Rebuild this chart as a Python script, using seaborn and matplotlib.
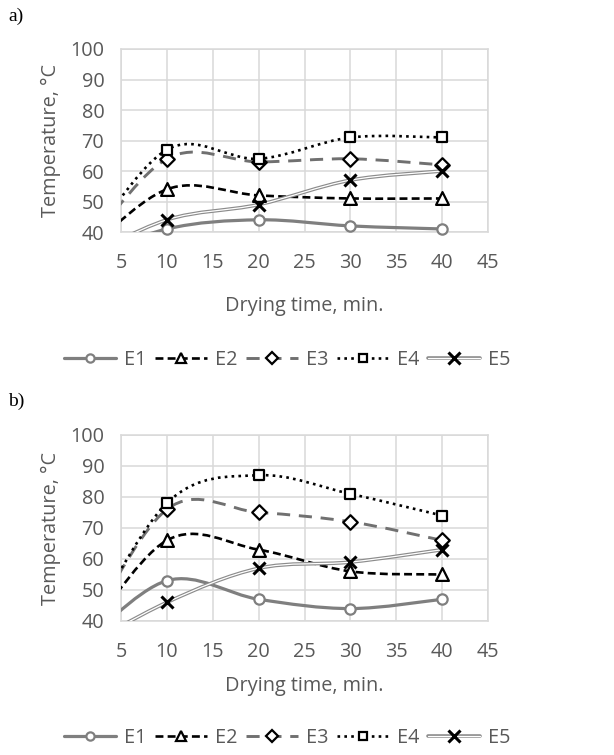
#***LIBRERÍAS***

import numpy as np
import pandas as pd
import matplotlib
matplotlib.use("Agg")
import matplotlib.pyplot as plt
import seaborn as sns
from matplotlib.path import Path
from matplotlib.patches import PathPatch
from matplotlib.lines import Line2D
from matplotlib.legend_handler import HandlerTuple
import matplotlib.patheffects as pe

#***DATOS***

tiempo = [0, 10, 20, 30, 40]
series = ["E1", "E2", "E3", "E4", "E5"]

# panel a)
a_E1 = [30, 41, 44, 42, 41]
a_E2 = [30, 54, 52, 51, 51]
a_E3 = [30, 64, 63, 64, 62]
a_E4 = [30, 67, 64, 71, 71]
a_E5 = [30, 44, 49, 57, 60]

# panel b)
b_E1 = [30, 53, 47, 44, 47]
b_E2 = [30, 66, 63, 56, 55]
b_E3 = [30, 76, 75, 72, 66]
b_E4 = [30, 78, 87, 81, 74]
b_E5 = [30, 46, 57, 59, 63]

xticks = [5, 10, 15, 20, 25, 30, 35, 40, 45]
yticks = [40, 50, 60, 70, 80, 90, 100]

GRIS_TXT = "#595959"
GRIS_GRID = "#d9d9d9"
FS = 14.3

#estilos por serie
estilos = {
    "E1": dict(color="#7f7f7f", lw=2.3, ls="-", marker="o", mec="#7f7f7f", s=55, doble=False),
    "E2": dict(color="black", lw=1.9, ls=(0, (3, 1.6)), marker="^", mec="black", s=85, doble=False),
    "E3": dict(color="#707070", lw=2.1, ls=(0, (4.5, 3)), marker="D", mec="black", s=55, doble=False),
    "E4": dict(color="black", lw=1.9, ls=(0, (1, 1.6)), marker="s", mec="black", s=62, doble=False),
    "E5": dict(color="#8c8c8c", lw=2.6, ls="-", marker="x", mec="black", s=75, doble=True),
}

#***FUNCIONES***

#curva suavizada tipo Excel (bezier cubica)
def curva_suave(xs, ys):
    pts = np.column_stack([xs, ys]).astype(float)
    n = len(pts)
    verts = [pts[0]]
    codes = [Path.MOVETO]
    for i in range(n - 1):
        p0 = pts[i - 1] if i > 0 else pts[i]
        p1 = pts[i]
        p2 = pts[i + 1]
        p3 = pts[i + 2] if i + 2 < n else pts[i + 1]
        verts += [p1 + (p2 - p0) / 6, p2 - (p3 - p1) / 6, p2]
        codes += [Path.CURVE4] * 3
    return Path(verts, codes)


def dibujar(ax, datos, pad_x=14):
    for nombre in series:
        st = estilos[nombre]
        camino = curva_suave(tiempo, datos[nombre])
        if st["doble"]:
            linea = PathPatch(camino, fill=False, edgecolor="white", lw=0.9, zorder=3,
                              path_effects=[pe.Stroke(linewidth=st["lw"], foreground=st["color"]), pe.Normal()])
        else:
            linea = PathPatch(camino, fill=False, edgecolor=st["color"], lw=st["lw"],
                              linestyle=st["ls"], zorder=3, capstyle="butt")
        ax.add_patch(linea)

        df = pd.DataFrame({"t": tiempo, "T": datos[nombre]})
        df = df[df["t"] >= 5]
        if st["marker"] == "x":
            sns.scatterplot(data=df, x="t", y="T", marker="x", color="black", s=st["s"],
                            linewidth=2.2, ax=ax, zorder=5, clip_on=False)
        else:
            sns.scatterplot(data=df, x="t", y="T", marker=st["marker"], color="white",
                            edgecolor=st["mec"], linewidth=1.6, s=st["s"], ax=ax, zorder=5, clip_on=False)

    ax.set_xlim(5, 45)
    ax.set_ylim(40, 100)
    ax.set_xticks(xticks)
    ax.set_yticks(yticks)
    ax.grid(True, color=GRIS_GRID, lw=1.1)
    for sp in ax.spines.values():
        sp.set_color(GRIS_GRID)
        sp.set_linewidth(1.1)
    ax.tick_params(axis="x", length=0, pad=15, labelsize=FS, labelcolor=GRIS_TXT)
    ax.tick_params(axis="y", length=0, pad=12, labelsize=FS, labelcolor=GRIS_TXT)
    ax.set_xlabel("Drying time, min.", fontsize=FS, color=GRIS_TXT, labelpad=pad_x)
    ax.set_ylabel("Temperature, \u00b0C", fontsize=FS, color=GRIS_TXT, labelpad=7)


def leyenda(fig, y):
    handles = []
    for nombre in series:
        st = estilos[nombre]
        if st["doble"]:
            l1 = Line2D([], [], color="white", lw=0.9,
                        path_effects=[pe.Stroke(linewidth=st["lw"], foreground=st["color"]), pe.Normal()])
            l2 = Line2D([], [], ls="none", marker="x", color="black", ms=8.5, mew=2.2)
            handles.append((l1, l2))
        else:
            handles.append(Line2D([], [], color=st["color"], lw=st["lw"], ls=st["ls"],
                                  marker=st["marker"], mfc="white", mec=st["mec"], mew=1.6,
                                  ms=np.sqrt(st["s"]) * 0.8))
    fig.legend(handles, series, loc="center", bbox_to_anchor=(0.468, y), ncol=5, frameon=False,
               handlelength=2.6, handletextpad=0.4, columnspacing=0.45, fontsize=FS,
               labelcolor=GRIS_TXT, handler_map={tuple: HandlerTuple(ndivide=1)})

#***FIGURA***

sns.set_theme(style="whitegrid")
plt.rcParams["font.family"] = ["Open Sans", "DejaVu Sans"]

fig = plt.figure(figsize=(6.14, 7.55), dpi=100)
ax_a = fig.add_axes([0.197, 0.6927, 0.598, 0.2424])
ax_b = fig.add_axes([0.197, 0.1775, 0.598, 0.2464])

dibujar(ax_a, dict(zip(series, [a_E1, a_E2, a_E3, a_E4, a_E5])), pad_x=17)
dibujar(ax_b, dict(zip(series, [b_E1, b_E2, b_E3, b_E4, b_E5])), pad_x=10)

leyenda(fig, 0.523)
leyenda(fig, 0.0225)

fig.text(0.013, 0.978, "a)", family="Liberation Serif", fontsize=14, color="black", va="center")
fig.text(0.013, 0.468, "b)", family="Liberation Serif", fontsize=14, color="black", va="center")

fig.savefig("out.png", dpi=100)
